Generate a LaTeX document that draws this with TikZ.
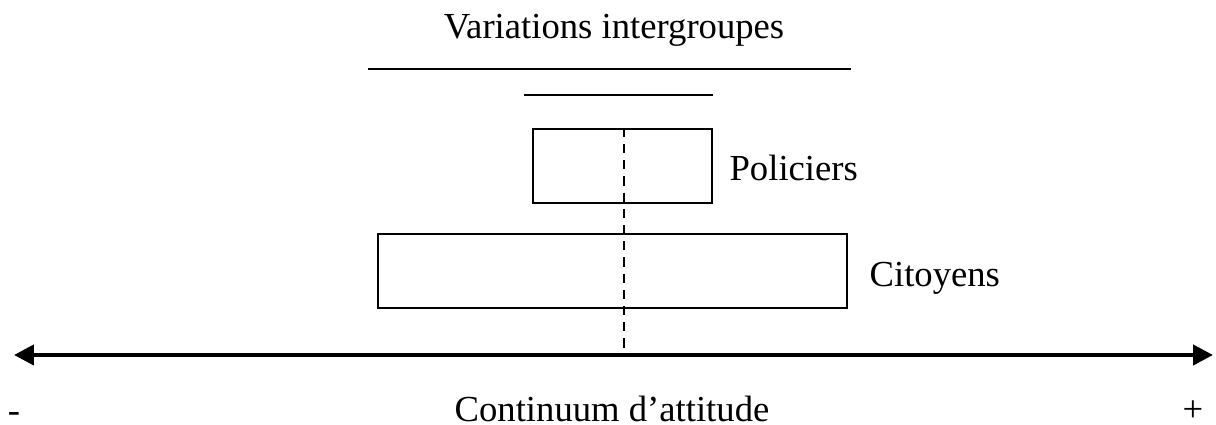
\documentclass[tikz,border=0pt]{standalone}
\usepackage{fontspec}
\setmainfont{Liberation Serif}
\usetikzlibrary{arrows.meta}

\begin{document}
\begin{tikzpicture}[x=0.0115cm,y=-0.0115cm,font=\fontsize{12}{14}\selectfont,
  boite/.style={draw,line width=0.7pt,inner sep=0pt},
  trait/.style={line width=0.5pt},
  texte/.style={inner sep=0pt}]
  \useasboundingbox (0,0) rectangle (1216,425);

  % Title and the two lines under it
  \node[texte] (titre) at (614,30) {Variations intergroupes};
  \coordinate (l1a) at (368,69);
  \coordinate (l1b) at (851,69);
  \coordinate (l2a) at (524,95);
  \coordinate (l2b) at (713,95);
  \draw[trait] (l1a) -- (l1b);
  \draw[trait] (l2a) -- (l2b);

  % Groups
  \node[boite,minimum width=179*0.0115cm,minimum height=74*0.0115cm] (pol) at (622.5,166) {};
  \node[boite,minimum width=469*0.0115cm,minimum height=74*0.0115cm] (cit) at (612.5,271) {};
  \node[texte,anchor=west] (lpol) at (729,168) {Policiers};
  \node[texte,anchor=west] (lcit) at (869,278) {Citoyens};

  % Attitude axis
  \coordinate (gauche) at (14,355);
  \coordinate (droite) at (1213,355);
  \draw[line width=1.4pt,{Triangle[length=6.5pt,width=6.5pt]}-{Triangle[length=6.5pt,width=6.5pt]}] (gauche) -- (droite);
  \draw[line width=0.7pt,dash pattern=on 3pt off 2.3pt] (pol.north -| 624,0) -- (624,352);

  % Labels of the axis
  \node[texte] (moins) at (14,418) {-};
  \node[texte] (axe) at (612,409) {Continuum d’attitude};
  \node[texte] (plus) at (1193,411) {+};
\end{tikzpicture}
\end{document}
